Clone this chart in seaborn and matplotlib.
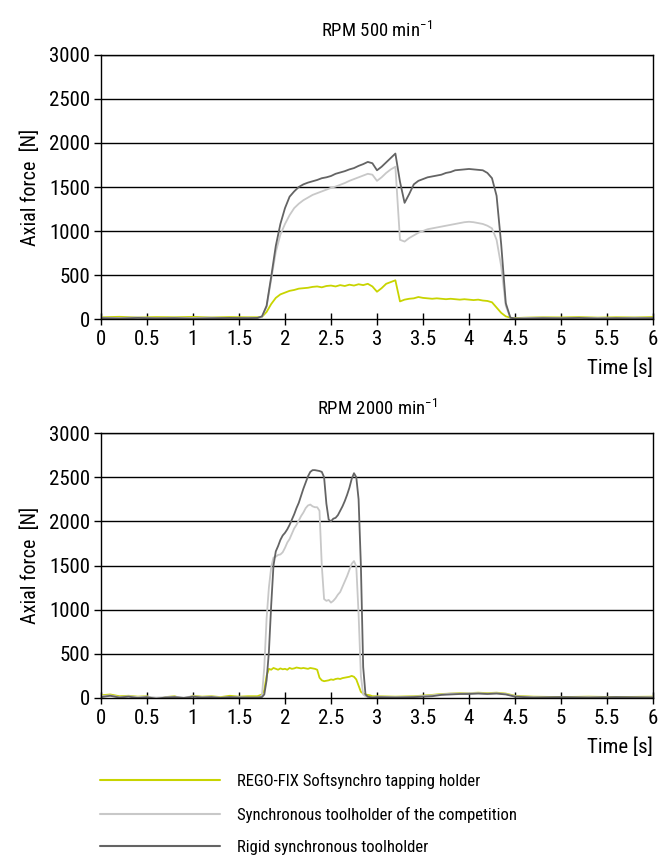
import seaborn as sns
import matplotlib.pyplot as plt
import pandas as pd

sns.set_style("white")
plt.rcParams['font.family'] = ['Roboto Condensed', 'Liberation Sans', 'DejaVu Sans']
plt.rcParams['mathtext.fontset'] = 'custom'
plt.rcParams['mathtext.rm'] = 'Roboto Condensed'
for key in ['text.color', 'axes.labelcolor', 'xtick.color', 'ytick.color']:
    plt.rcParams[key] = 'black'

series_names = ["REGO-FIX Softsynchro tapping holder",
                "Synchronous toolholder of the competition",
                "Rigid synchronous toolholder"]
colors = ["#c8d400", "#c8c8c8", "#646464"]

# ---- RPM 500 ----
t500 = [0.0, 0.2, 0.4, 0.6, 0.8, 1.0, 1.2, 1.4, 1.6,
        1.70, 1.75, 1.80, 1.85, 1.90, 1.95, 2.00, 2.05, 2.10, 2.15, 2.20, 2.25,
        2.30, 2.35, 2.40, 2.45, 2.50, 2.55, 2.60, 2.65, 2.70, 2.75, 2.80, 2.85,
        2.90, 2.95, 3.00, 3.05, 3.10, 3.15, 3.20, 3.25, 3.30, 3.35, 3.40, 3.45,
        3.50, 3.55, 3.60, 3.65, 3.70, 3.75, 3.80, 3.85, 3.90, 3.95, 4.00, 4.05,
        4.10, 4.15, 4.20, 4.25, 4.30, 4.35, 4.40, 4.45, 4.50,
        4.6, 4.8, 5.0, 5.2, 5.4, 5.6, 5.8, 6.0]
rego500 = [20, 25, 18, 22, 20, 24, 18, 22, 20,
           20, 25, 80, 170, 240, 280, 300, 320, 330, 345, 350, 355,
           365, 370, 360, 375, 380, 370, 385, 375, 390, 380, 395, 385,
           400, 370, 310, 350, 400, 420, 440, 200, 220, 230, 235, 250,
           240, 235, 230, 235, 230, 225, 230, 225, 220, 225, 220, 215,
           220, 210, 205, 190, 130, 70, 30, 15, 10,
           15, 20, 18, 22, 16, 20, 18, 22]
comp500 = [15, 12, 18, 10, 14, 12, 16, 10, 14,
           10, 25, 140, 450, 760, 960, 1080, 1180, 1260, 1310, 1350, 1380,
           1410, 1430, 1450, 1470, 1490, 1505, 1525, 1545, 1570, 1590, 1610, 1630,
           1650, 1640, 1570, 1610, 1660, 1700, 1730, 900, 880, 920, 950, 980,
           1000, 1020, 1030, 1040, 1050, 1060, 1070, 1080, 1090, 1100, 1105, 1100,
           1090, 1080, 1060, 1030, 900, 600, 150, 15, 5,
           12, 15, 10, 14, 12, 10, 15, 12]
rigid500 = [10, 6, 12, 8, 10, 5, 9, 12, 10,
            12, 30, 150, 480, 830, 1080, 1260, 1390, 1450, 1500, 1530, 1550,
            1565, 1580, 1600, 1610, 1625, 1650, 1665, 1680, 1700, 1715, 1740, 1760,
            1785, 1770, 1690, 1730, 1780, 1830, 1880, 1560, 1320, 1420, 1530, 1570,
            1590, 1610, 1620, 1630, 1640, 1660, 1670, 1690, 1695, 1700, 1705, 1700,
            1695, 1690, 1660, 1600, 1400, 850, 180, 15, 5,
            5, 10, 8, 12, 6, 10, 8, 10]

# ---- RPM 2000 ----
t2000 = [0.0, 0.1, 0.2, 0.3, 0.4, 0.5, 0.6, 0.7, 0.8, 0.9, 1.0, 1.1, 1.2, 1.3,
         1.4, 1.5, 1.6,
         1.700, 1.725, 1.750, 1.775, 1.800, 1.825, 1.850, 1.875, 1.900, 1.925,
         1.950, 1.975, 2.000, 2.025, 2.050, 2.075, 2.100, 2.125, 2.150, 2.175,
         2.200, 2.225, 2.250, 2.275, 2.300, 2.325, 2.350, 2.375, 2.400, 2.425,
         2.450, 2.475, 2.500, 2.525, 2.550, 2.575, 2.600, 2.625, 2.650, 2.675,
         2.700, 2.725, 2.750, 2.775, 2.800, 2.825, 2.850, 2.875, 2.900, 2.925,
         2.950,
         3.0, 3.2, 3.4, 3.6, 3.7, 3.8, 3.9, 4.0, 4.1, 4.2, 4.3, 4.4, 4.5, 4.7,
         5.0, 5.3, 5.6, 6.0]
rego2000 = [30, 40, 20, 25, 15, 20, -20, 10, 20, -15, 25, 15, 20, 10, 25, 15, 20,
            20, 30, 40, 90, 250, 330, 320, 340, 330, 320,
            335, 325, 330, 320, 340, 330, 335, 345, 340, 335,
            340, 335, 330, 340, 335, 330, 320, 230, 200, 190,
            195, 200, 210, 205, 215, 220, 215, 225, 230, 235,
            240, 250, 240, 210, 140, 70, 50, 40, 35, 30,
            20,
            20, 15, 20, 35, 45, 50, 55, 55, 60, 55, 60, 50, 25, 15,
            10, 15, 10, 15]
comp2000 = [20, 30, 10, 20, 10, 15, 5, 10, 15, 5, 20, 10, 15, 5, 10, 10, 5,
            5, 10, 30, 350, 900, 1250, 1480, 1590, 1600, 1620,
            1625, 1650, 1700, 1760, 1800, 1860, 1920, 1960, 2010, 2060,
            2100, 2150, 2180, 2190, 2170, 2160, 2160, 2120, 1500, 1120,
            1100, 1110, 1080, 1100, 1130, 1170, 1200, 1260, 1320, 1380,
            1450, 1520, 1550, 1490, 950, 250, 40, 20, 10, 5,
            5,
            15, 10, 15, 30, 40, 50, 50, 55, 55, 50, 55, 45, 20, 10,
            5, 10, 5, 10]
rigid2000 = [10, 25, 5, 15, 0, 10, -10, 5, 10, 0, 15, 5, 10, 0, 10, 5, 5,
             5, 8, 10, 40, 200, 520, 1050, 1500, 1660, 1720,
             1790, 1840, 1870, 1910, 1960, 2020, 2080, 2150, 2210, 2290,
             2370, 2440, 2510, 2560, 2580, 2580, 2575, 2570, 2560, 2500,
             2200, 2020, 2000, 2030, 2040, 2070, 2120, 2170, 2230, 2300,
             2380, 2480, 2545, 2500, 2250, 1500, 350, 40, 15, 10,
             5,
             10, 5, 10, 20, 35, 40, 45, 45, 50, 45, 50, 40, 15, 5,
             10, 5, 10, 5]

x_ticks = [0, 0.5, 1, 1.5, 2, 2.5, 3, 3.5, 4, 4.5, 5, 5.5, 6]
x_ticklabels = ["0", "0.5", "1", "1.5", "2", "2.5", "3", "3.5", "4", "4.5", "5", "5.5", "6"]
y_ticks = [0, 500, 1000, 1500, 2000, 2500, 3000]


def long_form(t, rego, comp, rigid):
    frames = []
    for name, vals in zip(series_names, [rego, comp, rigid]):
        frames.append(pd.DataFrame({"t": t, "force": vals, "holder": name}))
    return pd.concat(frames, ignore_index=True)


fig = plt.figure(figsize=(6.64, 8.58), dpi=100)
ax1 = fig.add_axes([0.1521, 0.6282, 0.8313, 0.3077])
ax2 = fig.add_axes([0.1521, 0.1865, 0.8313, 0.3088])

panels = [(ax1, long_form(t500, rego500, comp500, rigid500), r"RPM 500 min$^{-1}$"),
          (ax2, long_form(t2000, rego2000, comp2000, rigid2000), r"RPM 2000 min$^{-1}$")]

for ax, df, title in panels:
    sns.lineplot(data=df, x="t", y="force", hue="holder", hue_order=series_names,
                 palette=colors, linewidth=1.3, errorbar=None, ax=ax)
    for y in y_ticks[1:]:
        ax.axhline(y, color="black", linewidth=1, zorder=0)
    ax.set_xlim(0, 6)
    ax.set_ylim(0, 3000)
    ax.set_xticks(x_ticks)
    ax.set_xticklabels(x_ticklabels, fontsize=15)
    ax.set_yticks(y_ticks)
    ax.tick_params(axis="y", labelsize=15, direction="out", length=5, width=1,
                   color="black", left=True, pad=3)
    ax.tick_params(axis="x", direction="inout", length=9, width=1,
                   color="black", bottom=True)
    for sp in ax.spines.values():
        sp.set_color("black")
        sp.set_linewidth(1)
    ax.set_xlabel("Time [s]", loc="right", fontsize=15, labelpad=7)
    ax.set_ylabel("Axial force  [N]", fontsize=14.5, labelpad=6)
    ax.set_title(title, fontsize=13.5, pad=13)
    ax.get_legend().remove()

handles, labels = ax2.get_legend_handles_labels()
for h in handles:
    h.set_linewidth(1.5)
fig.legend(handles, labels, loc="upper left",
           bbox_to_anchor=(0.128, 1 - 758 / 858),
           frameon=False, fontsize=12, handlelength=7.2, handletextpad=1.05,
           labelspacing=1.05)

fig.savefig("out.png", dpi=100)
